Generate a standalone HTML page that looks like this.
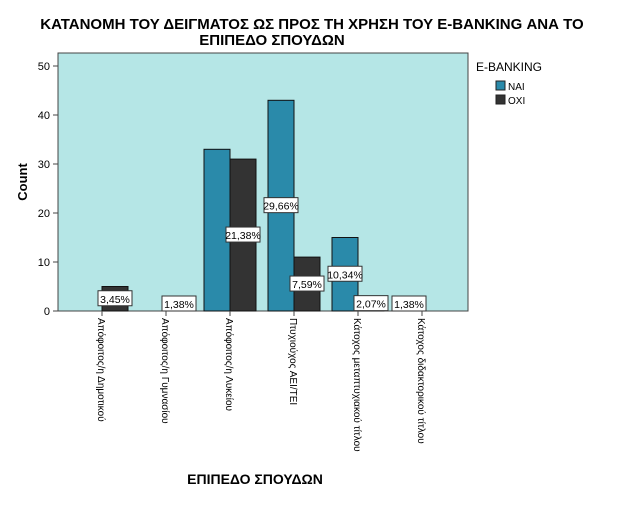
<!DOCTYPE html>
<html><head><meta charset="utf-8"><style>
body{margin:0;background:#fff;width:626px;height:501px;overflow:hidden;font-family:"Liberation Sans",sans-serif}
</style></head><body>
<svg width="626" height="501" xmlns="http://www.w3.org/2000/svg" font-family="Liberation Sans, sans-serif" id="chart">
<text x="312" y="29" text-anchor="middle" font-size="15" font-weight="bold">ΚΑΤΑΝΟΜΗ ΤΟΥ ΔΕΙΓΜΑΤΟΣ ΩΣ ΠΡΟΣ ΤΗ ΧΡΗΣΗ ΤΟΥ E-BANKING ΑΝΑ ΤΟ</text>
<text x="272" y="45" text-anchor="middle" font-size="15" font-weight="bold">ΕΠΙΠΕΔΟ ΣΠΟΥΔΩΝ</text>
<rect x="58" y="53" width="410" height="258" fill="#b5e6e6" stroke="#444"/>
<g id="yaxis"></g>
<g id="bars"></g>
<g id="xaxis"></g>
<text transform="translate(27,182) rotate(-90)" text-anchor="middle" font-size="13" font-weight="bold">Count</text>
<text x="255" y="484" text-anchor="middle" font-size="14" font-weight="bold">ΕΠΙΠΕΔΟ ΣΠΟΥΔΩΝ</text>
<g>
<text x="476" y="71" font-size="12">E-BANKING</text>
<rect x="496" y="81" width="9" height="9" fill="#2a8aaa" stroke="#222"/>
<text x="508" y="90" font-size="10">ΝΑΙ</text>
<rect x="496" y="95" width="9" height="9" fill="#333" stroke="#222"/>
<text x="508" y="104" font-size="10">ΟΧΙ</text>
</g>
</svg>
<script>
const categories=["Απόφοιτος/η Δημοτικού","Απόφοιτος/η Γυμνασίου","Απόφοιτος/η Λυκείου","Πτυχιούχος ΑΕΙ/ΤΕΙ","Κάτοχος μεταπτυχιακού τίτλου","Κάτοχος διδακτορικού τίτλου"];
const naiValues=[0,0,33,43,15,2];
const oxiValues=[5,2,31,11,3,0];
const naiLabels=["","","","29,66%","10,34%","1,38%"];
const oxiLabels=["3,45%","1,38%","21,38%","7,59%","2,07%",""];
const yTicks=[0,10,20,30,40,50];
const NS="http://www.w3.org/2000/svg";
const y=v=>311-v*4.9;
const x=i=>102+i*64;
const bw=26;
function mk(t,a,p){const e=document.createElementNS(NS,t);for(const k in a)e.setAttribute(k,a[k]);(p||document.getElementById('chart')).appendChild(e);return e;}
const ya=document.getElementById('yaxis'),xa=document.getElementById('xaxis'),bars=document.getElementById('bars');
yTicks.forEach(t=>{
 const l=mk('line',{x1:53,x2:58,y1:y(t),y2:y(t),stroke:'#444'},ya);
 
 
 const tx=mk('text',{x:50,y:y(t)+4,'text-anchor':'end','font-size':11},ya);
 tx.textContent=t;
 
 
});
const labs=[];
categories.forEach((c,i)=>{
 const cx=x(i);
 [[naiValues[i],cx-bw,'#2a8aaa',naiLabels[i],'nai'],[oxiValues[i],cx,'#333',oxiLabels[i],'oxi']].forEach(([v,bx,col,lab,s])=>{
  if(v>0){const r=mk('rect',{x:bx,y:y(v),width:bw,height:y(0)-y(v),fill:col,stroke:'#111'},bars);
   
   }
  if(lab)labs.push([bx+bw/2,(y(v)+y(0))/2,lab]);
 });
 const tk=mk('line',{x1:cx,x2:cx,y1:311,y2:316,stroke:'#444'},xa);
 
 
 const t=mk('text',{transform:`translate(${cx-4},318) rotate(90)`,'font-size':10},xa);
 t.textContent=c;
 
 
});
labs.forEach(([lx,ly,lab])=>{
 const yy=Math.min(ly,304);
 const r=mk('rect',{x:lx-17,y:yy-8,width:34,height:15,fill:'#fff',stroke:'#333'},bars);
 
 
 const t=mk('text',{x:lx,y:yy+4,'text-anchor':'middle','font-size':10.5},bars);
 t.textContent=lab;
 
 
});
</script>
</body></html>
